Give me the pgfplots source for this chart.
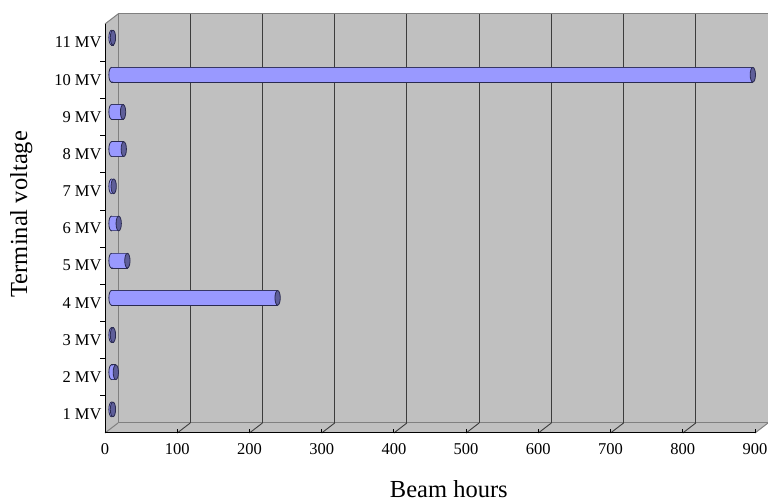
\documentclass[border=0pt]{standalone}
\usepackage{fontspec}
\setmainfont{Liberation Serif}
\usepackage{pgfplots}
\usepackage{pgfplotstable}
\pgfplotsset{compat=1.18}

\definecolor{wall}{HTML}{C0C0C0}
\definecolor{walledge}{HTML}{808080}
\definecolor{gridline}{HTML}{3C3C3C}
\definecolor{barfill}{HTML}{9999FF}
\definecolor{barcap}{HTML}{5E5E99}
\definecolor{barline}{HTML}{2A2A50}

% beam hours per terminal voltage (MV)
\pgfplotstableread{
v  base hours
1  0    2
2  0    6
3  0    2
4  0    230
5  0    22
6  0    10
7  0    3
8  0    17
9  0    16
10 0    888
11 0    2
}\beamtable

\begin{document}
\begin{tikzpicture}[x=1pt,y=1pt]
% 3-D box: back wall, left wall and floor
\fill[wall] (118,79) rectangle (768,488);
\fill[wall] (105,69) -- (118,79) -- (118,488) -- (105,478) -- cycle;
\fill[wall] (105,69) -- (755,69) -- (768,79) -- (118,79) -- cycle;
\draw[walledge, line width=1pt] (118,79) rectangle (768,488);
\draw[walledge, line width=1pt] (105,478) -- (118,488);
\draw[walledge, line width=1pt] (105,69) -- (118,79);
\draw[walledge, line width=1pt] (755,69) -- (768,79);
% gridlines on the back wall and their floor traces
\foreach \k in {1,...,8} {
  \draw[gridline, line width=1.2pt] ({118+72.2222*\k},79) -- ({118+72.2222*\k},488);
  \draw[gridline, line width=0.9pt] ({105+72.2222*\k},69) -- ({118+72.2222*\k},79);
}
\begin{axis}[
  at={(105pt,69pt)}, anchor=south west,
  scale only axis, width=650pt, height=409pt,
  clip=false, clip marker paths=true,
  xmin=0, xmax=900, ymin=0.5, ymax=11.5,
  axis lines*=left,
  axis line style={black, line width=1pt},
  xtick={0,100,...,900},
  xtick style={black, line width=0.8pt},
  tick align=inside,
  major tick length=4pt,
  ytick={1,...,11},
  yticklabels={1 MV,2 MV,3 MV,4 MV,5 MV,6 MV,7 MV,8 MV,9 MV,10 MV,11 MV},
  ytick style={draw=none},
  extra y ticks={1.5,2.5,...,10.5},
  extra y tick labels={},
  extra y tick style={ytick style={draw=black, line width=0.8pt}, tick align=outside, major tick length=5pt},
  tick label style={font=\fontsize{16.5}{19}\selectfont},
  xticklabel style={yshift=-7pt},
  /pgf/number format/assume math mode=true,
  xlabel={Beam hours},
  ylabel={Terminal voltage},
  every axis x label/.style={at={(axis description cs:0.529,-0.137)}, anchor=center,
    font=\fontsize{24.5}{29}\selectfont},
  every axis y label/.style={at={(axis description cs:-0.129,0.535)}, anchor=center, rotate=90,
    font=\fontsize{24.5}{29}\selectfont},
]
% cylinder body with its rounded base
\addplot[xbar, bar width=14.7pt, xshift=6.5pt, yshift=5pt,
  fill=barfill, draw=barline, line width=0.8pt]
  table[x=hours, y=v]{\beamtable};
\addplot[only marks, mark=*, mark size=7.35pt, xshift=6.5pt, yshift=5pt,
  mark options={xscale=0.36, fill=barfill, draw=barline, line width=0.8pt}]
  table[x=base, y=v]{\beamtable};
\addplot[xbar, bar width=13.9pt, xshift=6.5pt, yshift=5pt,
  fill=barfill, draw=none]
  table[x=hours, y=v]{\beamtable};
% end caps
\addplot[only marks, mark=*, mark size=7.35pt, xshift=6.5pt, yshift=5pt,
  mark options={xscale=0.36, fill=barcap, draw=barline, line width=0.8pt}]
  table[x=hours, y=v]{\beamtable};
\end{axis}
\pgfresetboundingbox
\path[use as bounding box] (0,0) rectangle (768,502);
\end{tikzpicture}
\end{document}
